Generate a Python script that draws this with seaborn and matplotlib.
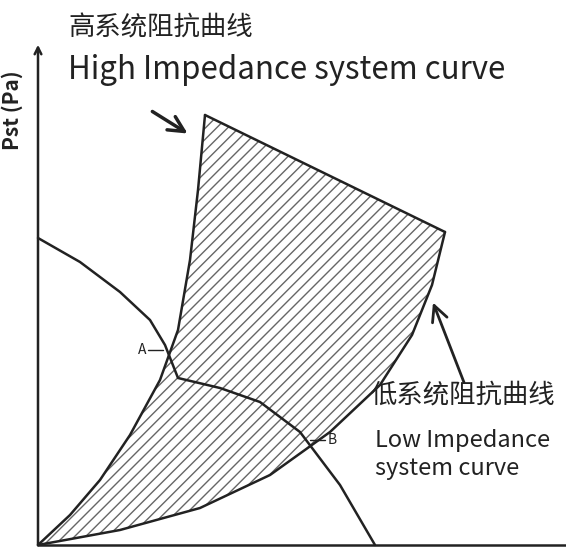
import matplotlib
matplotlib.use("Agg")
import matplotlib.pyplot as plt
import seaborn as sns
import numpy as np
import pandas as pd

sns.set_theme(style="white")
plt.rcParams['font.family'] = ['Noto Sans CJK SC', 'DejaVu Sans']
plt.rcParams['hatch.linewidth'] = 1.0

# fan curve (flow, pressure) in picture units
fan_x = [38, 80, 120, 150, 165, 178, 220, 260, 300, 340, 375]
fan_y = [238, 262, 292, 320, 345, 378, 388, 402, 432, 485, 545]
# high impedance system curve
high_x = [38, 70, 100, 130, 160, 178, 190, 198, 205]
high_y = [545, 515, 480, 435, 380, 330, 260, 190, 115]
# low impedance system curve
low_x = [38, 120, 200, 270, 330, 380, 412, 432, 445]
low_y = [545, 530, 508, 475, 432, 385, 335, 285, 232]

fig = plt.figure(figsize=(5.66, 5.5), dpi=100)
ax = fig.add_axes([0, 0, 1, 1])
ax.set_xlim(0, 566); ax.set_ylim(550, 0); ax.axis('off')

poly_x = high_x + low_x[::-1]
poly_y = high_y + low_y[::-1]
ax.fill(poly_x, poly_y, facecolor='white', edgecolor='#666666', hatch='///', lw=0)
df = pd.concat([pd.DataFrame({'x': fan_x, 'y': fan_y, 'c': 'fan'}),
                pd.DataFrame({'x': high_x, 'y': high_y, 'c': 'high'}),
                pd.DataFrame({'x': low_x, 'y': low_y, 'c': 'low'})])
sns.lineplot(data=df, x='x', y='y', units='c', estimator=None, sort=False, color='#222222', lw=1.8, ax=ax)
ax.plot([high_x[-1], low_x[-1]], [high_y[-1], low_y[-1]], color='#222222', lw=1.8)

# axes
ax.annotate('', xy=(38, 42), xytext=(38, 548), arrowprops=dict(arrowstyle='->', color='#222', lw=1.8))
ax.plot([38, 566], [545, 545], color='#222', lw=1.8)

ax.text(12, 110, 'Pst (Pa)', rotation=90, fontsize=15, fontweight='bold', ha='center', va='center', color='#222')
ax.text(68, 28, '高系统阻抗曲线', fontsize=19, va='center', color='#222')
ax.text(68, 70, 'High Impedance system curve', fontsize=22.5, va='center', color='#222')
ax.annotate('', xy=(190, 135), xytext=(150, 110), arrowprops=dict(arrowstyle='->', color='#222', lw=2.5, mutation_scale=28))
ax.annotate('', xy=(432, 300), xytext=(465, 385), arrowprops=dict(arrowstyle='->', color='#222', lw=2, mutation_scale=28))
ax.text(370, 395, '低系统阻抗曲线', fontsize=19, va='center', color='#222')
ax.text(375, 440, 'Low Impedance', fontsize=17, va='center', color='#222')
ax.text(375, 468, 'system curve', fontsize=17, va='center', color='#222')
ax.text(138, 350, 'A', fontsize=10, va='center', color='#222')
ax.plot([148, 163], [350, 350], color='#222', lw=1)
ax.text(328, 440, 'B', fontsize=10, va='center', color='#222')
ax.plot([310, 325], [440, 440], color='#222', lw=1)

fig.savefig('out.png', dpi=100)
